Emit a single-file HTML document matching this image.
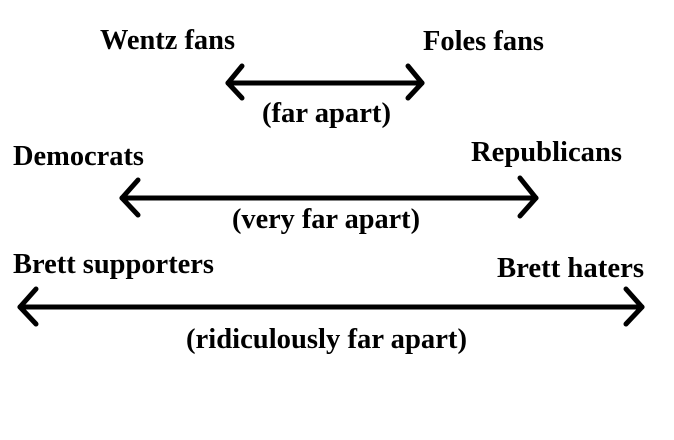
<!DOCTYPE html>
<html><head><style>html,body{margin:0;padding:0;background:#fff;}svg{display:block}text{font-family:"Liberation Serif","Times New Roman",serif;font-weight:bold;font-size:29px;}</style></head>
<body>
<svg width="674" height="440" xmlns="http://www.w3.org/2000/svg" fill="#000">
<rect width="674" height="440" fill="#fff"/>
<g stroke="#000" stroke-width="5" fill="none" stroke-linecap="round" stroke-linejoin="round">
<line x1="228" y1="83" x2="422" y2="83"/>
<polyline points="242,66 228,83 242,98"/>
<polyline points="408,66 422,83 408,98"/>
<line x1="122" y1="198" x2="536" y2="198"/>
<polyline points="138,180 122,198 138,215"/>
<polyline points="520,178 536,198 520,216"/>
<line x1="20" y1="307" x2="642" y2="307"/>
<polyline points="36,289 20,307 36,324"/>
<polyline points="626,289 642,307 626,324"/>
</g>
<text x="100" y="49" textLength="135" lengthAdjust="spacingAndGlyphs">Wentz fans</text>
<text x="423" y="50" textLength="121" lengthAdjust="spacingAndGlyphs">Foles fans</text>
<text x="262" y="122" textLength="129" lengthAdjust="spacingAndGlyphs">(far apart)</text>
<text x="13" y="165" textLength="131" lengthAdjust="spacingAndGlyphs">Democrats</text>
<text x="471" y="161" textLength="151" lengthAdjust="spacingAndGlyphs">Republicans</text>
<text x="232" y="228" textLength="188" lengthAdjust="spacingAndGlyphs">(very far apart)</text>
<text x="13" y="273" textLength="201" lengthAdjust="spacingAndGlyphs">Brett supporters</text>
<text x="497" y="277" textLength="147" lengthAdjust="spacingAndGlyphs">Brett haters</text>
<text x="186" y="348" textLength="281" lengthAdjust="spacingAndGlyphs">(ridiculously far apart)</text>
</svg>
</body></html>
